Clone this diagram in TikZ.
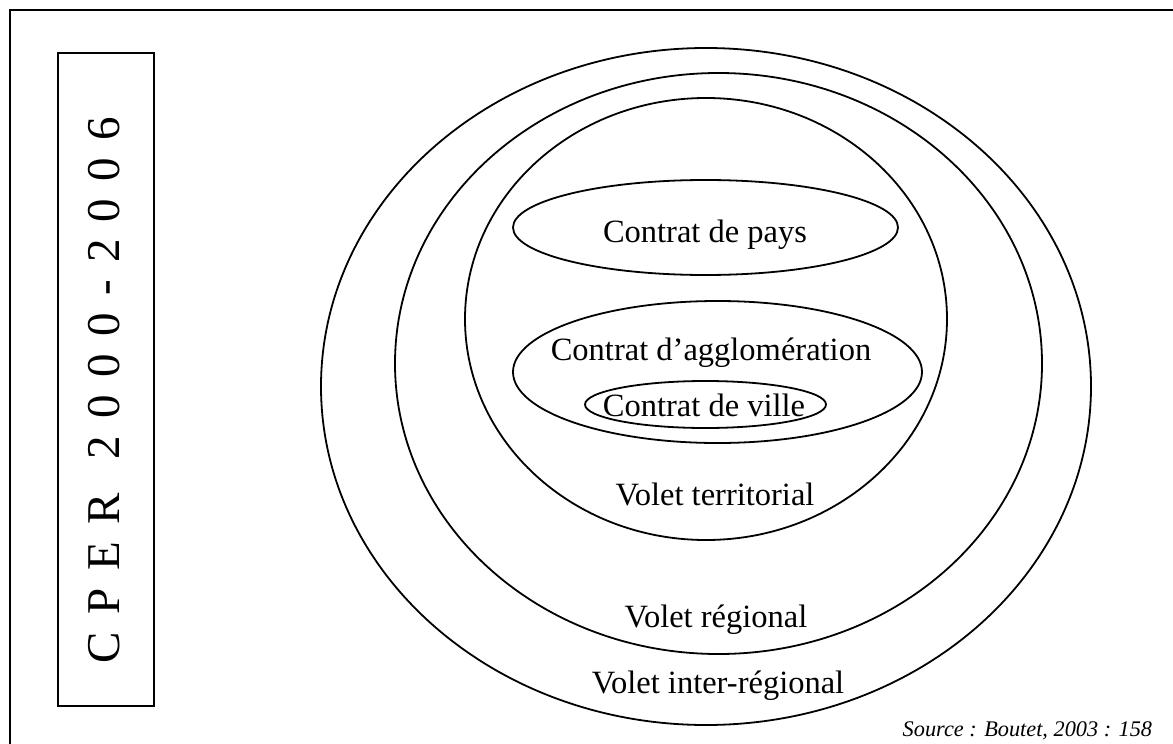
\documentclass[tikz,border=0pt]{standalone}
\usepackage{fontspec}
\setmainfont{Liberation Serif}
\usetikzlibrary{shapes.geometric}
\newcommand\ls{\hspace{17.3pt}}
\begin{document}
\begin{tikzpicture}[x=1pt,y=-1pt,line width=1.8pt,
  ring/.style={draw,ellipse,inner sep=0pt,outer sep=0pt},
  lbl/.style={anchor=base,inner sep=0pt,font=\fontsize{32.5}{39}\selectfont}]
\useasboundingbox (0,0) rectangle (1173,744);
\draw (10,10) rectangle (1200,770);
\node[draw,minimum width=96pt,minimum height=653pt,inner sep=0pt] (box) at (106,379.5) {};
\node[rotate=90,inner sep=0pt,font=\fontsize{47}{50}\selectfont] (cper) at (104,390)
  {C\ls P\ls E\ls R\ls\ls 2\ls 0\ls 0\ls 0\ls -\ls 2\ls 0\ls 0\ls 6};
\node[ring,minimum width=770pt,minimum height=677pt] (interreg) at (706,386.5) {};
\node[ring,minimum width=647pt,minimum height=581pt] (reg) at (718.5,363.5) {};
\node[ring,minimum width=482pt,minimum height=442pt] (terr) at (706,319) {};
\node[ring,minimum width=385pt,minimum height=95pt] (pays) at (705.5,227.5) {};
\node[ring,minimum width=409pt,minimum height=142pt] (agglo) at (717.5,372) {};
\node[ring,minimum width=241pt,minimum height=47pt] (ville) at (705.5,404.5) {};
\node[lbl] (tpays) at (705,242) {Contrat de pays};
\node[lbl] (tagglo) at (711,360) {Contrat d’agglomération};
\node[lbl] (tville) at (704,416) {Contrat de ville};
\node[lbl] (tterr) at (715,505) {Volet territorial};
\node[lbl] (treg) at (716,627) {Volet régional};
\node[lbl] (tinter) at (718,693) {Volet inter-régional};
\node[anchor=base east,inner sep=0pt,font=\fontsize{22.3}{26}\selectfont\itshape] (src) at (1153,736) {Source : Boutet, 2003 : 158};
\end{tikzpicture}
\end{document}
